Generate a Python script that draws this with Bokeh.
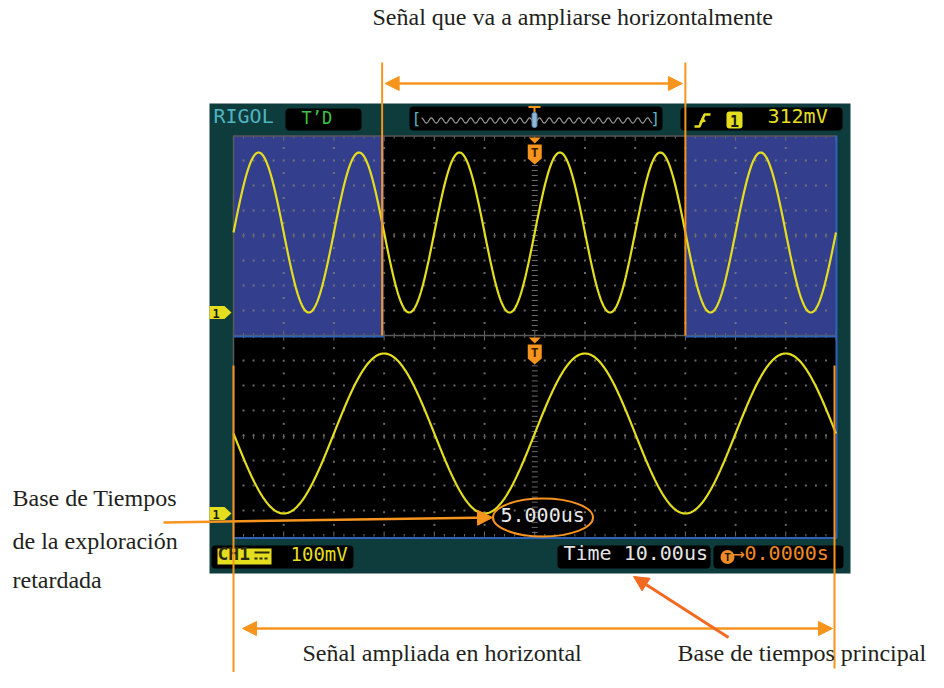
import numpy as np
from bokeh.plotting import figure
from bokeh.models import Range1d, Arrow, NormalHead
from bokeh.embed import file_html
from bokeh.resources import INLINE
from bokeh.core.properties import value

# ---------------- data ----------------
signal_freq_mhz = [0.05]          # 50 kHz sine on CH1
signal_offset_mv = [320.0]        # mean level above ground
signal_amp_mv = [320.0]           # peak amplitude
main_timebase_us = [10.0]         # main time base, us/div
delayed_timebase_us = [5.0]       # delayed time base, us/div
delayed_center_us = [0.0]         # centre of the zoomed window
ch1_scale_mv = [100.0]            # volts/div
ground_div_below_center = [3.08]  # CH1 ground marker, divisions below window centre
overview_span_us = [470.0]        # time span shown in the memory overview bar

top_texts = ["RIGOL", "T\u2019D", "312mV"]
bottom_texts = ["CH1", "100mV", "Time 10.00us", "\u21920.0000s", "5.000us"]
note_top = ["Se\u00f1al que va a ampliarse horizontalmente"]
note_left = ["Base de Tiempos", "de la exploraci\u00f3n", "retardada"]
note_bottom = ["Se\u00f1al ampliada en horizontal", "Base de tiempos principal"]

# ---------------- layout / style ----------------
ORANGE = "#f7941d"
ORANGE2 = "#f26a22"
TEAL = "#0e3b3b"
BLUE = "#333f8d"
YELLOW = "#e4de1e"
DARK = "#231f20"
GRIDC = "#7a7a7a"
SERIF = value("Liberation Serif")
MONO = value("DejaVu Sans Mono")

SX0, SX1 = 233.0, 835.5
DIV = (SX1 - SX0) / 12.0
SXC = SX0 + 6 * DIV
VDIV = 25.0
WIN = [(135.0, 335.0), (335.0, 537.0)]   # upper, lower window (top, bottom)

p = figure(width=928, height=672, x_range=Range1d(0, 928), y_range=Range1d(672, 0),
           output_backend="svg", toolbar_location=None, min_border=0,
           x_axis_location=None, y_axis_location=None)
p.grid.visible = False
p.outline_line_color = None
p.background_fill_color = "white"
p.border_fill_color = "white"

# scope body and screen
p.quad(left=[209], right=[850], top=[103], bottom=[573], fill_color=TEAL, line_color=None)
p.quad(left=[SX0], right=[SX1], top=[WIN[0][0]], bottom=[WIN[1][1]], fill_color="black", line_color=None)

# zoom window edges in upper display
half = 6 * delayed_timebase_us[0]
zl = SXC + (delayed_center_us[0] - half) / main_timebase_us[0] * DIV
zr = SXC + (delayed_center_us[0] + half) / main_timebase_us[0] * DIV
p.quad(left=[SX0, zr], right=[zl, SX1], top=[WIN[0][0]] * 2, bottom=[WIN[0][1]] * 2,
       fill_color=BLUE, line_color=None)

# graticule dots
dx, dy = [], []
for (wt, wb) in WIN:
    for k in range(1, 8):
        yy = wt + VDIV * k
        for j in range(1, 60):
            if j % 5:
                dx.append(SX0 + j * DIV / 5); dy.append(yy)
    for i in range(1, 12):
        if i == 6:
            continue
        for m in range(1, 16):
            dx.append(SX0 + i * DIV); dy.append(wt + m * (wb - wt) / 16)
p.scatter(dx, dy, marker="square", size=2, fill_color=GRIDC, line_color=None, fill_alpha=0.85)

# tick lines: top border, window boundary, bottom, window centres, centre column
sx0, sy0, sx1, sy1 = [], [], [], []
for yy, up, dn in [(135.5, 0, 3), (335.0, 3, 3), (536.0, 3, 0)]:
    for j in range(0, 61):
        L = 5 if j % 5 == 0 else 2.5
        xx = SX0 + j * DIV / 5
        sx0.append(xx); sx1.append(xx); sy0.append(yy - (L if up else 0)); sy1.append(yy + (L if dn else 0))
for (wt, wb) in WIN:
    yc = (wt + wb) / 2
    for j in range(1, 60):
        xx = SX0 + j * DIV / 5
        sx0.append(xx); sx1.append(xx); sy0.append(yc - 2.5); sy1.append(yc + 2.5)
    for m in range(1, 40):
        yy = wt + m * (wb - wt) / 40
        sx0.append(SXC - 3); sx1.append(SXC + 3); sy0.append(yy); sy1.append(yy)
p.segment(sx0, sy0, sx1, sy1, line_color="#6a6a6a", line_width=1)
p.segment([SX0, SX0, SX0], [135.5, 335, 135], [SX1, SX1, SX0], [135.5, 335, 537], line_color="#5a5a5a", line_width=1.5)
# blue edges
p.segment([SX0, zr, SX0, SX1 + 0.5], [336, 336, 537.5, 135], [zl, SX1, SX1 + 0.5, SX1 + 0.5], [336, 336, 537.5, 538],
          line_color="#2f62b8", line_width=2)

# traces
def volts(t):
    return signal_offset_mv[0] + signal_amp_mv[0] * np.sin(2 * np.pi * signal_freq_mhz[0] * t)

for wi, tb in enumerate([main_timebase_us[0], delayed_timebase_us[0]]):
    wt, wb = WIN[wi]
    yc = (wt + wb) / 2
    gy = yc + ground_div_below_center[0] * VDIV
    c = delayed_center_us[0] if wi == 1 else 0.0
    t = np.linspace(c - 6 * tb, c + 6 * tb, 900)
    xs = SXC + (t - c) / tb * DIV
    ys = gy - volts(t) / ch1_scale_mv[0] * VDIV
    p.line(xs, ys, line_color=YELLOW, line_width=2.2)
    # channel marker
    p.patch([209, 224, 231, 224, 209], [gy - 6.5, gy - 6.5, gy, gy + 6.5, gy + 6.5], fill_color=YELLOW, line_color=None)
    p.text([215.5], [gy + 0.5], text=["1"], text_font=MONO, text_font_size=value("12px"), text_font_style="bold",
           text_color="#1a1a1a", text_align="center", text_baseline="middle")
    # trigger marker
    ty = wt + 2
    p.patch([SXC - 6, SXC + 6, SXC], [ty, ty, ty + 6], fill_color=ORANGE, line_color=None)
    p.patch([SXC - 7, SXC + 7, SXC + 7, SXC, SXC - 7], [ty + 7, ty + 7, ty + 21, ty + 27, ty + 21],
            fill_color=ORANGE, line_color=None)
    p.text([SXC], [ty + 15], text=["T"], text_font=MONO, text_font_size=value("13px"), text_font_style="bold",
           text_color="#3a1a00", text_align="center", text_baseline="middle")

# ---------------- top status bar ----------------
p.quad(left=[285, 409, 680], right=[361, 662, 842], top=[108, 106, 107], bottom=[130, 130, 130],
       fill_color="black", line_color=None, border_radius=4)
p.text([213], [127], text=[top_texts[0]], text_font=MONO, text_font_size=value("20px"), text_color="#4fb4c0")
p.text([301], [127], text=[top_texts[1]], text_font=MONO, text_font_size=value("17px"), text_color="#3cc43c")
# overview wave
ox = np.linspace(421, 652, 600)
ot = (ox - 536.5) / (652 - 421) * overview_span_us[0]
p.line(ox, 120 - 2.6 * np.sin(2 * np.pi * signal_freq_mhz[0] * ot), line_color="#9a9a9a", line_width=1.2)
p.text([411, 650], [127, 127], text=["[", "]"], text_font=MONO, text_font_size=value("16px"), text_color="#5ab4c4")
p.segment([528, 534], [106.5, 106.5], [540, 534], [106.5, 114], line_color=ORANGE, line_width=2)
p.quad(left=[531.5], right=[536.5], top=[112], bottom=[127], fill_color="#8cb8dc", line_color="#5c7ca0", border_radius=2)
# trigger edge symbol, source, level
p.line([694, 699, 704, 710], [126, 126, 114, 114], line_color=YELLOW, line_width=2.5)
p.patch([698.5, 705.5, 702], [123, 121, 116], fill_color=YELLOW, line_color=None)
p.quad(left=[726], right=[742], top=[111], bottom=[128], fill_color=YELLOW, line_color=None, border_radius=3)
p.text([734], [126], text=["1"], text_font=MONO, text_font_size=value("15px"), text_font_style="bold",
       text_color="#1a1a1a", text_align="center")
p.text([767], [127], text=[top_texts[2]], text_font=MONO, text_font_size=value("20px"), text_color=YELLOW)

# ---------------- bottom status bar ----------------
p.quad(left=[211, 557, 713], right=[353, 710, 843], top=[545, 545, 545], bottom=[568, 568, 568],
       fill_color="black", line_color=None, border_radius=4)
p.quad(left=[217], right=[271], top=[548], bottom=[564], fill_color=YELLOW, line_color=None)
p.text([217], [563], text=[bottom_texts[0]], text_font=MONO, text_font_size=value("18px"), text_font_style="bold",
       text_color="#2a2a10")
p.segment([254, 254], [552, 558], [269, 269], [552, 558], line_color="#2a2a10", line_width=2, line_dash=["solid", "3 2"])
p.text([290], [564], text=[bottom_texts[1]], text_font=MONO, text_font_size=value("19px"), text_color=YELLOW)
p.text([563], [564], text=[bottom_texts[2]], text_font=MONO, text_font_size=value("20px"), text_color="#e4e4e4")
p.circle([727], [556.5], radius=7, fill_color="#f08a24", line_color=None)
p.text([727], [557], text=["T"], text_font=MONO, text_font_size=value("11px"), text_font_style="bold",
       text_color="#1a1a1a", text_align="center", text_baseline="middle")
p.text([732], [564], text=[bottom_texts[3]], text_font=MONO, text_font_size=value("20px"), text_color="#f08a24")
p.text([500], [526], text=[bottom_texts[4]], text_font=MONO, text_font_size=value("20px"), text_color="#e8e8e8")

# ---------------- orange annotations ----------------
p.segment([zl - 2, zr, SX0, 834], [62, 62, 365, 365], [zl - 2, zr, SX0, 834], [335, 335, 672, 668],
          line_color=ORANGE, line_width=2)

def head(c, s=14):
    return NormalHead(size=s, fill_color=c, line_color=c)

p.add_layout(Arrow(x_start=zl + 1, y_start=83, x_end=zr - 3, y_end=83, start=head(ORANGE), end=head(ORANGE),
                   line_color=ORANGE, line_width=2.5))
p.add_layout(Arrow(x_start=242, y_start=628, x_end=832, y_end=628, start=head(ORANGE), end=head(ORANGE),
                   line_color=ORANGE, line_width=2.5))
p.add_layout(Arrow(x_start=163, y_start=522, x_end=492, y_end=517, end=head(ORANGE, 15),
                   line_color=ORANGE, line_width=2.5))
p.add_layout(Arrow(x_start=728, y_start=637, x_end=633, y_end=576, end=head(ORANGE2, 15),
                   line_color=ORANGE2, line_width=3))
p.ellipse([542.5], [517], width=[100], height=[38], fill_color=None, line_color=ORANGE, line_width=2)

# ---------------- explanatory texts ----------------
p.text([372], [29], text=note_top, text_font=SERIF, text_font_size=value("24px"), text_color=DARK)
p.text([12, 12, 12], [510, 553, 592], text=note_left, text_font=SERIF, text_font_size=value("24px"), text_color=DARK)
p.text([302, 677], [665, 665], text=note_bottom, text_font=SERIF, text_font_size=value("24px"), text_color=DARK)

open("out.html", "w").write(file_html(p, INLINE))
